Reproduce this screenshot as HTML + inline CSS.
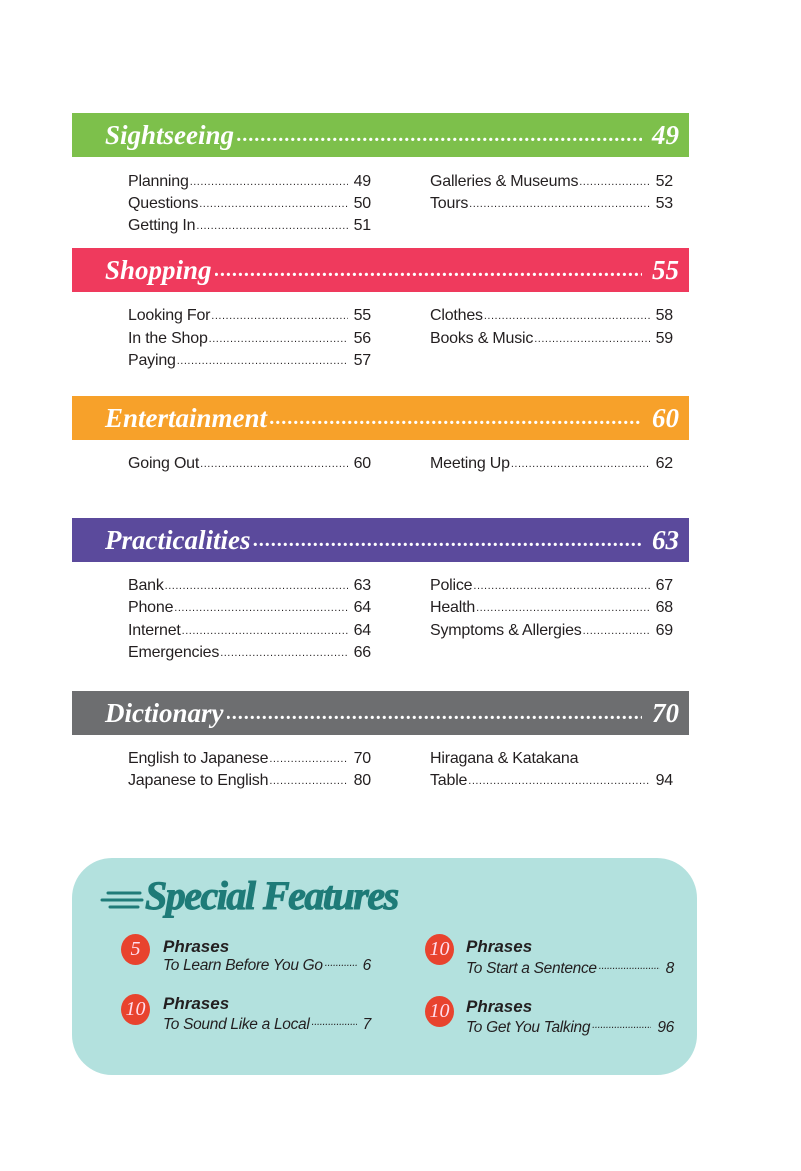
<!DOCTYPE html>
<html><head><meta charset="utf-8"><style>
body{margin:0;width:801px;height:1171px;background:#fff;position:relative;font-family:"Liberation Sans",sans-serif;overflow:hidden}
.bar{position:absolute;left:72px;width:617px;height:44px;color:#fff;font-family:"Liberation Serif",serif;font-style:italic;font-weight:bold;font-size:27px;display:flex;align-items:center;box-sizing:border-box;padding:0 10px 0 33px}
.bar .d,.r .d{flex:1;overflow:hidden;white-space:nowrap;margin:0 3px}
.bar .d{font-size:20px;letter-spacing:1px;margin-right:10px}
.r{position:absolute;width:243px;display:flex;font-size:16px;color:#231f20;height:22px;line-height:22px;letter-spacing:-0.2px}
.r .d{font-size:11px;letter-spacing:0.5px;margin:0 6px 0 1px}
.box{position:absolute;left:72px;top:858px;width:625px;height:217px;background:#b3e1de;border-radius:40px}
.c{position:absolute;width:29px;height:31px;border-radius:50%;background:#e8432e;color:#fde;font-family:"Liberation Serif",serif;font-style:italic;font-size:20px;text-align:center;line-height:31px}
.p{position:absolute;font-weight:bold;font-style:italic;font-size:17px;color:#231f20}
.s{position:absolute;font-style:italic;font-size:15.5px;color:#231f20;display:flex;width:208px;letter-spacing:-0.3px}
.s .d{flex:1;overflow:hidden;white-space:nowrap;margin:0 6px 0 2px;font-size:11px}
</style></head><body>
<div class="bar" style="top:113px;background:#7dc04b">Sightseeing<span class="d">..............................................................................................................</span>49</div>
<div class="bar" style="top:248px;background:#ef3a5d">Shopping<span class="d">..............................................................................................................</span>55</div>
<div class="bar" style="top:396px;background:#f7a12a">Entertainment<span class="d">..............................................................................................................</span>60</div>
<div class="bar" style="top:518px;background:#5b4a9c">Practicalities<span class="d">..............................................................................................................</span>63</div>
<div class="bar" style="top:691px;background:#6d6e70">Dictionary<span class="d">..............................................................................................................</span>70</div>

<div class="r" style="left:128px;top:171px">Planning<span class="d">........................................................................</span>49</div>
<div class="r" style="left:128px;top:193px">Questions<span class="d">........................................................................</span>50</div>
<div class="r" style="left:128px;top:215px">Getting In<span class="d">........................................................................</span>51</div>
<div class="r" style="left:430px;top:171px">Galleries &amp; Museums<span class="d">........................................................................</span>52</div>
<div class="r" style="left:430px;top:193px">Tours<span class="d">........................................................................</span>53</div>

<div class="r" style="left:128px;top:305px">Looking For<span class="d">........................................................................</span>55</div>
<div class="r" style="left:128px;top:328px">In the Shop<span class="d">........................................................................</span>56</div>
<div class="r" style="left:128px;top:350px">Paying<span class="d">........................................................................</span>57</div>
<div class="r" style="left:430px;top:305px">Clothes<span class="d">........................................................................</span>58</div>
<div class="r" style="left:430px;top:328px">Books &amp; Music<span class="d">........................................................................</span>59</div>

<div class="r" style="left:128px;top:453px">Going Out<span class="d">........................................................................</span>60</div>
<div class="r" style="left:430px;top:453px">Meeting Up<span class="d">........................................................................</span>62</div>

<div class="r" style="left:128px;top:575px">Bank<span class="d">........................................................................</span>63</div>
<div class="r" style="left:128px;top:597px">Phone<span class="d">........................................................................</span>64</div>
<div class="r" style="left:128px;top:620px">Internet<span class="d">........................................................................</span>64</div>
<div class="r" style="left:128px;top:642px">Emergencies<span class="d">........................................................................</span>66</div>
<div class="r" style="left:430px;top:575px">Police<span class="d">........................................................................</span>67</div>
<div class="r" style="left:430px;top:597px">Health<span class="d">........................................................................</span>68</div>
<div class="r" style="left:430px;top:620px">Symptoms &amp; Allergies<span class="d">........................................................................</span>69</div>

<div class="r" style="left:128px;top:748px">English to Japanese<span class="d">........................................................................</span>70</div>
<div class="r" style="left:128px;top:770px">Japanese to English<span class="d">........................................................................</span>80</div>
<div class="r" style="left:430px;top:748px">Hiragana &amp; Katakana</div>
<div class="r" style="left:430px;top:770px">Table<span class="d">........................................................................</span>94</div>

<div class="box"></div>
<svg style="position:absolute;left:100px;top:888px" width="44" height="24"><g stroke="#1e7b78" stroke-width="3" stroke-linecap="round"><line x1="8" y1="5" x2="40" y2="5"/><line x1="2" y1="12" x2="42" y2="12"/><line x1="10" y1="19" x2="38" y2="19"/></g></svg>
<div style="position:absolute;left:145px;top:872px;font-family:'Liberation Serif',serif;font-weight:bold;font-style:italic;font-size:40px;color:#1e7b78;letter-spacing:-1.5px;-webkit-text-stroke:1px #1e7b78">Special Features</div>

<div class="c" style="left:121px;top:934px">5</div>
<div class="p" style="left:163px;top:937px">Phrases</div>
<div class="s" style="left:163px;top:957px">To Learn Before You Go<span class="d">.........................</span>6</div>
<div class="c" style="left:121px;top:994px">10</div>
<div class="p" style="left:163px;top:994px">Phrases</div>
<div class="s" style="left:163px;top:1016px">To Sound Like a Local<span class="d">.........................</span>7</div>
<div class="c" style="left:425px;top:934px">10</div>
<div class="p" style="left:466px;top:937px">Phrases</div>
<div class="s" style="left:466px;top:960px">To Start a Sentence<span class="d">.........................</span>8</div>
<div class="c" style="left:425px;top:996px">10</div>
<div class="p" style="left:466px;top:997px">Phrases</div>
<div class="s" style="left:466px;top:1019px">To Get You Talking<span class="d">.........................</span>96</div>
</body></html>
